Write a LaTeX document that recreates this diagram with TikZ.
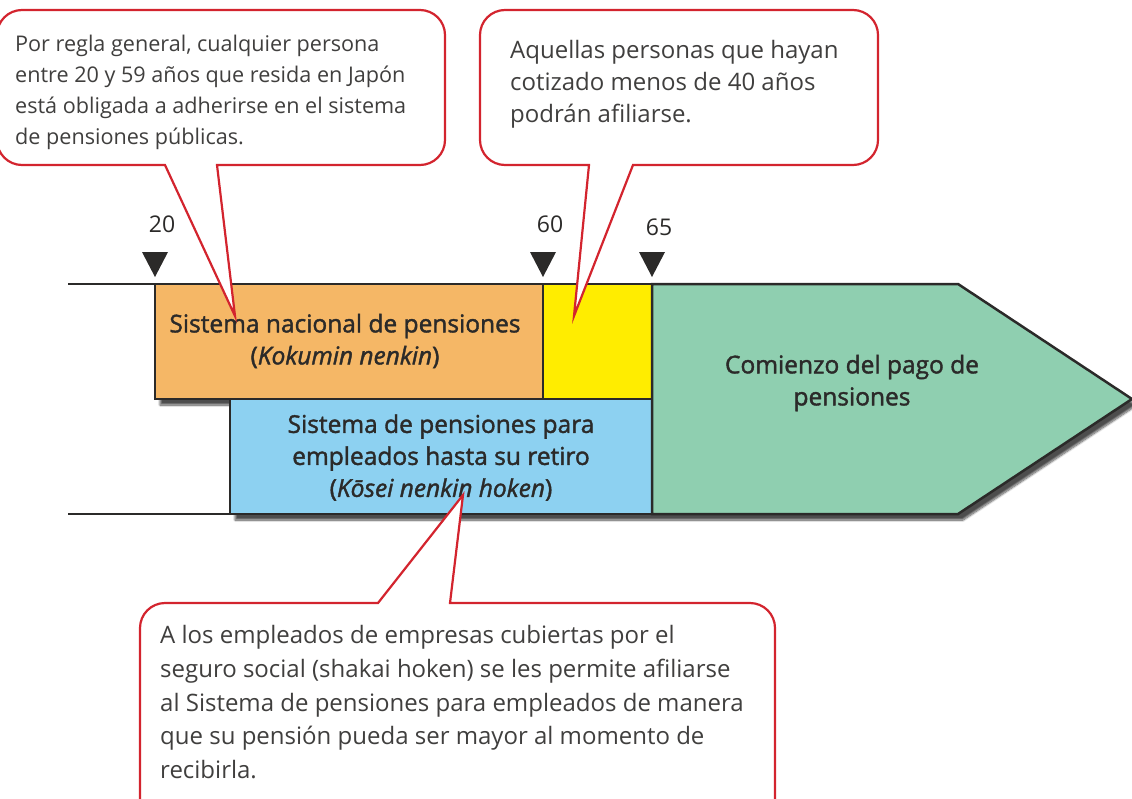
\documentclass[tikz,border=0pt]{standalone}
\usepackage{fontspec}
\setmainfont{Open Sans}
\newfontfamily\medfont[FakeBold=1.6]{Open Sans}
\usetikzlibrary{shadows.blur}

\definecolor{rojo}{HTML}{D3242E}
\definecolor{tinta}{HTML}{2B2A29}
\definecolor{naranja}{HTML}{F5B766}
\definecolor{amarillo}{HTML}{FFED00}
\definecolor{celeste}{HTML}{8DD1F1}
\definecolor{verde}{HTML}{8FCFB0}

\tikzset{
  caja/.style={draw=tinta, line width=2.5pt, inner sep=0pt, align=center,
    font=\medfont\fontsize{24.5}{32}\selectfont, text=tinta},
  globo/.style={draw=rojo, fill=white, line width=2.2pt},
  nota/.style={anchor=north west, inner sep=0pt, align=left, text=tinta!90,
    font=\fontsize{24}{32}\selectfont},
  marca/.style={fill=tinta},
}

\begin{document}
\begin{tikzpicture}[x=1pt, y=-1pt]
\useasboundingbox (0,0) rectangle (1132,798);
\clip (0,0) rectangle (1132,798);

% shadow of the whole block
\path[fill=white, blur shadow={shadow xshift=5pt, shadow yshift=-6pt, shadow blur steps=10, shadow opacity=70}]
  (155,284) -- (958,284) -- (1132,399) -- (958,514) -- (230,514) -- (230,399) -- (155,399) -- cycle;

% base lines
\coordinate (lineaA) at (68,284);
\coordinate (lineaB) at (68,514);
\draw[tinta, line width=2.5pt] (lineaA) -- (155,284);
\draw[tinta, line width=2.5pt] (lineaB) -- (230,514);

% boxes
\node[caja, fill=naranja, minimum width=388pt, minimum height=115pt] (nacional) at (349,341.5) {};
\node[caja, fill=amarillo, minimum width=109pt, minimum height=115pt] (tramo) at (597.5,341.5) {};
\node[caja, fill=celeste, minimum width=422pt, minimum height=115pt] (empleados) at (441,456.5) {};
\draw[tinta, line width=2.5pt, fill=verde, line join=miter]
  (652,284) -- (958,284) -- (1132,399) -- (958,514) -- (652,514) -- cycle;

\node[caja, draw=none] (txtnacional) at (345,341) {Sistema nacional de pensiones\\ (\textit{Kokumin nenkin})};
\node[caja, draw=none] (txtempleados) at (441,457.5) {Sistema de pensiones para\\ empleados hasta su retiro\\ (\textit{K\={o}sei nenkin hoken})};
\node[caja, draw=none] (txtpago) at (852,383) {Comienzo del pago de\\ pensiones};

% age marks
\foreach \x/\edad/\dy in {155/20/0, 543/60/0, 652/65/3}
{
  \fill[marca] (\x-13,252) -- (\x+13,252) -- (\x,277) -- cycle;
  \node[text=tinta, font=\fontsize{23}{24}\selectfont] (edad\edad) at (\x+7,224+\dy) {\edad};
}

% callouts
\coordinate (punta1) at (235,316);
\coordinate (punta2) at (574,316);
\coordinate (punta3) at (463,495);
\draw[globo] (217,165) [rounded corners=25pt] -- (445,165) -- (445,10) -- (-3,10) -- (-3,165) [sharp corners] -- (165,165) -- (punta1) -- cycle;
\draw[globo] (633,165) [rounded corners=25pt] -- (878,165) -- (878,10) -- (480,10) -- (480,165) [sharp corners] -- (589,165) -- (punta2) -- cycle;
\draw[globo] (378,603) [rounded corners=25pt] -- (140,603) -- (140,840) -- (775,840) -- (775,603) [sharp corners] -- (450,603) -- (punta3) -- cycle;

\node[nota, font=\fontsize{21.6}{31}\selectfont] (nota1) at (15,35) {Por regla general, cualquier persona\\ entre 20 y 59 años que resida en Japón\\ está obligada a adherirse en el sistema\\ de pensiones públicas.};
\node[nota] (nota2) at (510,40) {Aquellas personas que hayan\\ cotizado menos de 40 años\\ podrán afiliarse.};
\node[nota, font=\fontsize{24}{33.8}\selectfont] (nota3) at (160,625) {A los empleados de empresas cubiertas por el\\ seguro social (shakai hoken) se les permite afiliarse\\ al Sistema de pensiones para empleados de manera\\ que su pensión pueda ser mayor al momento de\\ recibirla.};
\end{tikzpicture}
\end{document}
